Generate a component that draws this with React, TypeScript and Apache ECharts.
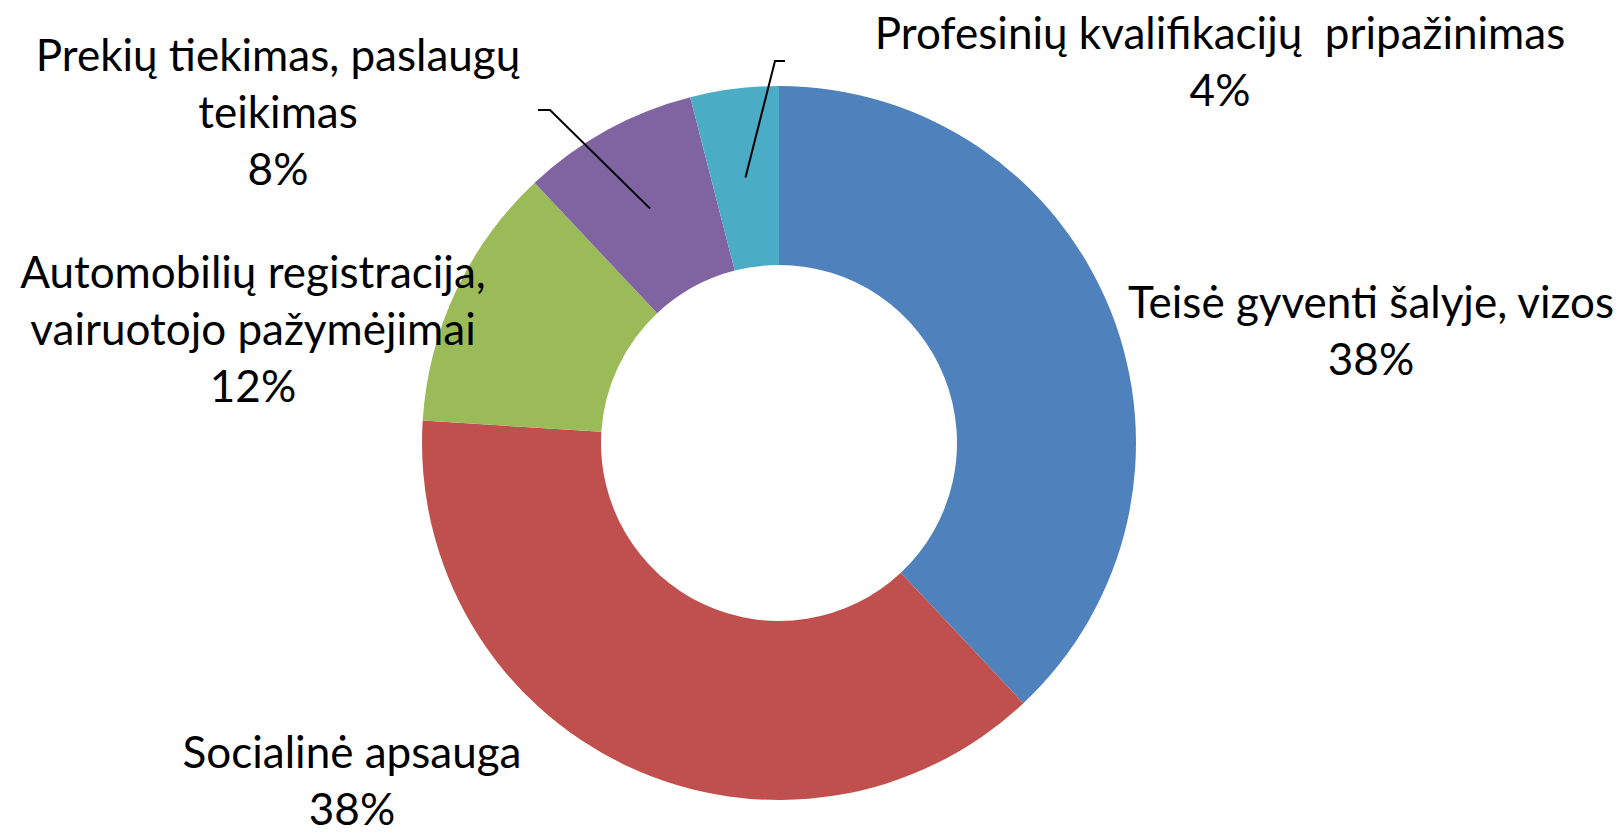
import React, { useEffect, useRef } from "react";
import * as echarts from "echarts";

// ---- data ----
const categories = [
  "Teisė gyventi šalyje, vizos",
  "Socialinė apsauga",
  "Automobilių registracija,\nvairuotojo pažymėjimai",
  "Prekių tiekimas, paslaugų\nteikimas",
  "Profesinių kvalifikacijų  pripažinimas",
];
const shares = [38, 38, 12, 8, 4];
const colors = ["#4F81BD", "#C0504D", "#9BBB59", "#8064A2", "#4BACC6"];

// ---- layout (pixels) ----
const CENTER = [779, 443];
const RADIUS = [178, 357];
const FONT = "Lato, 'Open Sans', sans-serif";
const FONT_SIZE = 44;
const LINE_HEIGHT = 57;
const labelAnchors = [
  [1371, 329],
  [352, 779],
  [253, 328],
  [278, 111],
  [1220, 60],
];
const leaderBends: (number[][] | null)[] = [
  null,
  null,
  null,
  [
    [550, 110],
    [538, 110],
  ],
  [
    [775, 61],
    [785, 61],
  ],
];

export default function App() {
  const ref = useRef<HTMLDivElement>(null);
  useEffect(() => {
    document.body.style.margin = "0";
    if (!ref.current) return;
    const chart = echarts.init(ref.current, undefined, { renderer: "svg" });
    const total = shares.reduce((a, b) => a + b, 0);
    const midAngles: number[] = [];
    let acc = 0;
    shares.forEach((v) => {
      midAngles.push(((acc + v / 2) / total) * Math.PI * 2);
      acc += v;
    });
    const midR = (RADIUS[0] + RADIUS[1]) / 2;
    const leaderGraphics = leaderBends
      .map((bends, i) => {
        if (!bends) return null;
        const a = midAngles[i];
        const start = [
          CENTER[0] + midR * Math.sin(a),
          CENTER[1] - midR * Math.cos(a),
        ];
        return {
          type: "polyline",
          z: 100,
          silent: true,
          shape: { points: [start, bends[0], bends[1]] },
          style: { stroke: "#000000", lineWidth: 2, fill: null },
        };
      })
      .filter(Boolean);
    chart.setOption({
      animation: false,
      backgroundColor: "#ffffff",
      graphic: leaderGraphics,
      series: [
        {
          type: "pie",
          center: CENTER,
          radius: RADIUS,
          startAngle: 90,
          clockwise: true,
          avoidLabelOverlap: false,
          itemStyle: { borderWidth: 0 },
          emphasis: { disabled: true },
          label: {
            show: true,
            position: "outside",
            formatter: (p: any) => `${p.name}\n${p.percent}%`,
            fontFamily: FONT,
            fontSize: FONT_SIZE,
            lineHeight: LINE_HEIGHT,
            color: "#000000",
            align: "center",
          },
          labelLine: { show: false },
          labelLayout: (params: any) => {
            const i = params.dataIndex;
            return {
              x: labelAnchors[i][0],
              y: labelAnchors[i][1],
              align: "center",
              verticalAlign: "middle",
            };
          },
          data: categories.map((name, i) => ({
            name,
            value: shares[i],
            itemStyle: { color: colors[i] },
          })),
        },
      ],
    });
    return () => chart.dispose();
  }, []);
  return <div ref={ref} style={{ width: "1622px", height: "832px" }} />;
}
